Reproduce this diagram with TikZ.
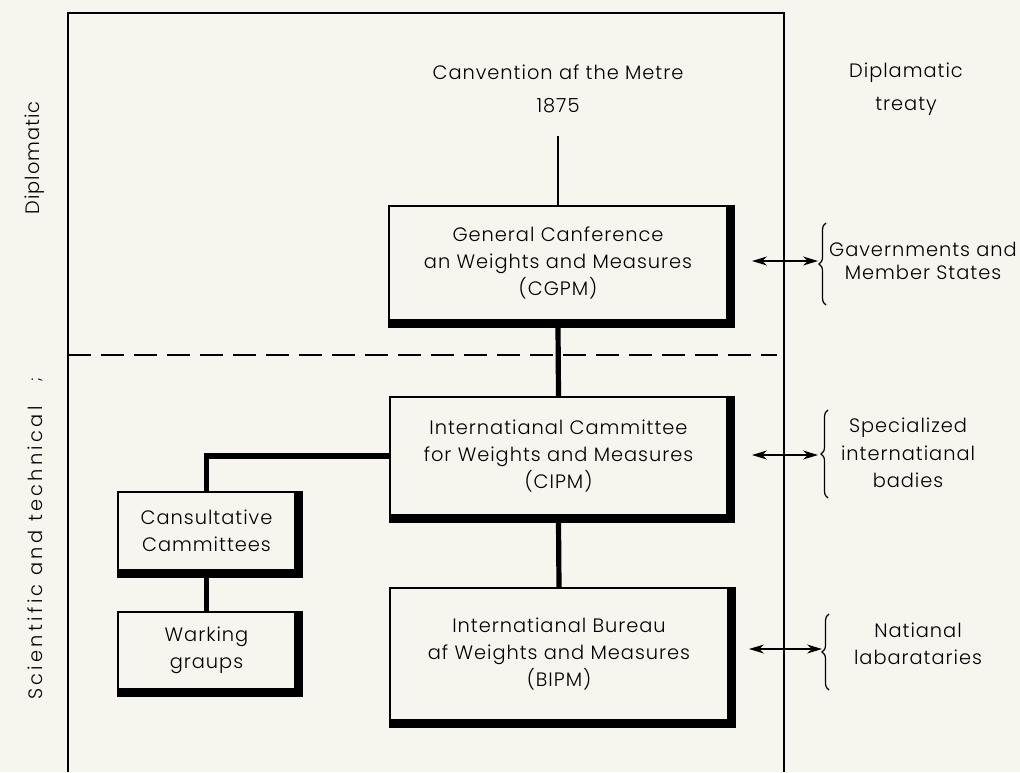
\documentclass[tikz,border=0pt]{standalone}
\usepackage{fontspec}
\setmainfont{Poppins}[UprightFont=* Light,LetterSpace=5.0]
\usetikzlibrary{arrows.meta,decorations.pathreplacing}
\definecolor{paper}{RGB}{246,245,238}

\begin{document}
\begin{tikzpicture}[x=0.5pt,y=-0.5pt,
  every node/.style={font=\fontsize{9.7}{13.7}\selectfont},
  panel/.style={draw,line width=0.9pt,align=center,inner sep=0pt},
  link/.style={line width=2.6pt},
  tie/.style={{Stealth[length=7.5pt,width=4.5pt]}-{Stealth[length=7.5pt,width=4.5pt]},line width=0.6pt},
  curly/.style={decorate,decoration={brace,amplitude=3.5pt},line width=0.6pt}]
\fill[paper] (0,0) rectangle (1020,772);
\useasboundingbox (0,0) rectangle (1020,772);
\draw[line width=0.7pt] (68,772) -- (68,13) -- (784,13) -- (784,772);
\draw[line width=1.2pt,dash pattern=on 11.5pt off 5pt] (68,355) -- (777,355);

\node[rotate=90] (diplo) at (35,158) {Diplomatic};
\node[rotate=90] (scitech) at (35,553) {\addfontfeature{LetterSpace=17}Scientific and technical};
\node[rotate=90,font=\fontsize{8}{9}\selectfont] (speck) at (37,380) {;};

\node[align=center] (metre) at (558,89) {Canvention af the Metre\\[2.5pt]1875};
\node[align=center] (treaty) at (906,89) {Diplamatic\\[2.5pt]treaty};
\coordinate (metretail) at (558,136);

\node[panel,minimum width=169pt,minimum height=57pt] (cgpm) at (558,263) {General Canference\\an Weights and Measures\\(CGPM)};
\node[panel,minimum width=168.5pt,minimum height=59pt] (cipm) at (558.5,456) {Internatianal Cammittee\\for Weights and Measures\\(CIPM)};
\node[panel,minimum width=169pt,minimum height=66pt] (bipm) at (559,654) {Internatianal Bureau\\af Weights and Measures\\(BIPM)};
\node[panel,minimum width=88.5pt,minimum height=39pt] (cc) at (206.5,531) {Cansultative\\Cammittees};
\node[panel,minimum width=88.5pt,minimum height=38.5pt] (wg) at (206.5,650.5) {Warking\\graups};
\foreach \n in {cgpm,cipm,bipm,cc,wg}
  \draw[line width=3.5pt] ([yshift=-1.75pt]\n.south west) -- ([shift={(1.75pt,-1.75pt)}]\n.south east) -- ([xshift=1.75pt]\n.north east);

\draw[line width=0.7pt] (metretail) -- (cgpm.north);
\draw[link] ([yshift=-3.5pt]cgpm.south) -- (cipm.north);
\draw[link] ([yshift=-3.5pt]cipm.south) -- (bipm.north);
\draw[link] (cipm.west) -| (cc.north);
\draw[link] ([yshift=-3.5pt]cc.south) -- (wg.north);

\coordinate (govA) at (752,261);
\coordinate (govB) at (818,261);
\coordinate (specA) at (752,455);
\coordinate (specB) at (818,455);
\coordinate (labA) at (749,649);
\coordinate (labB) at (822,649);
\draw[tie] (govA) -- (govB);
\draw[tie] (specA) -- (specB);
\draw[tie] (labA) -- (labB);
\draw[curly] (826,305) -- (826,223);
\draw[curly] (828,498) -- (828,410);
\draw[curly] (829,690) -- (829,614);

\node[align=center] (gov) at (923,261) {Gavernments and\\[-2pt]Member States};
\node[align=center] (spec) at (908,453) {Specialized\\internatianal\\badies};
\node[align=center] (natlab) at (918,644) {Natianal\\labarataries};
\end{tikzpicture}
\end{document}
